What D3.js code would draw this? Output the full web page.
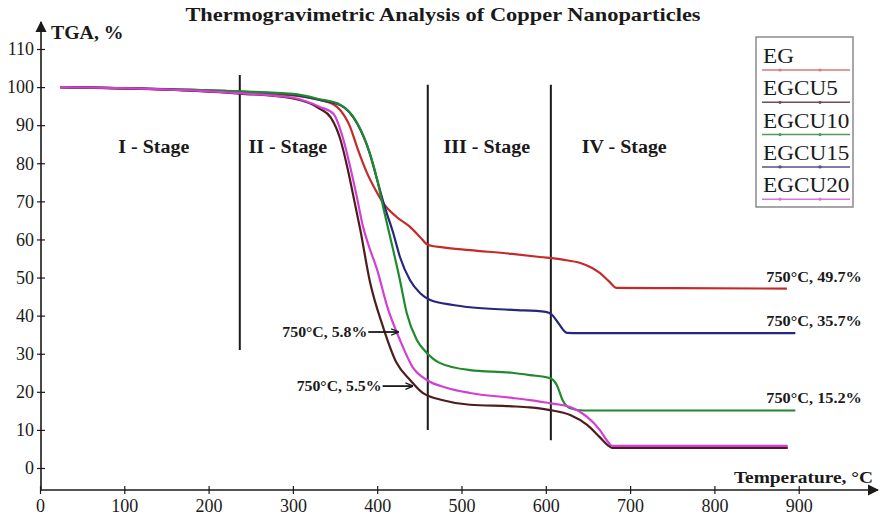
<!DOCTYPE html>
<html>
<head>
<meta charset="utf-8">
<script src="https://cdn.jsdelivr.net/npm/d3@7"></script>
<style>
  body { margin: 0; background: #fff; }
  svg { display: block; }
  text { font-family: "Liberation Serif", "DejaVu Serif", serif; fill: #1a1a1a; }
</style>
</head>
<body>
<div id="chart"></div>
<script>
// ---- data ----
var seriesNames = ["EG", "EGCU5", "EGCU10", "EGCU15", "EGCU20"];
var seriesColors = ["#c42a2a", "#4e1c1e", "#1f8a2c", "#26267e", "#d23fd2"];
var legendColors = ["#d87a7a", "#6b5058", "#4f9a58", "#5a4f88", "#d77ad7"];

// temperature (°C), mass (%)
var egData = [[24,100],[120,99.5],[237,98.6],[300,97.8],[332,96.6],[348,95.5],[356,94],[368,89.5],[376,84.3],
  [388,77.4],[400,72.2],[407,69.6],[423,65.9],[439,63.3],[451,60.6],[460,58.6],[478,57.9],[510,57.2],[560,56.2],
  [593,55.4],[620,54.7],[641,53.8],[655,52.5],[664,51.2],[675,49],[684,47.3],[750,47.2],[886,47.1]];
var egcu5Data = [[24,100],[120,99.6],[237,98.3],[300,97],[332,94.3],[345,92],[356,86.5],[365,78.5],[373,70],
  [380,62.5],[391,49.3],[407,37],[423,27.6],[439,23.1],[454,19.7],[478,17.8],[510,16.6],[560,16.2],[581,15.9],
  [605,15.2],[629,13.9],[649,11.3],[664,8.1],[674,5.9],[679,5.3],[887,5.3]];
var egcu10Data = [[24,100],[120,99.6],[237,98.9],[300,98.2],[332,96.8],[356,95.4],[376,90.7],[391,82.8],[400,75.7],
  [407,68.6],[415,61],[427,49.3],[435,40.7],[447,33.6],[459,30.2],[474,27.6],[510,25.7],[560,25],[581,24.4],
  [605,23.6],[613,21.8],[620,17.8],[629,15.7],[645,15.1],[896,15.1]];
var egcu15Data = [[24,100],[120,99.6],[237,98.8],[300,98],[332,96.6],[356,95.3],[376,90.5],[391,82.7],[400,75.6],
  [409,68.5],[419,61.7],[427,55.4],[439,49.3],[451,45.9],[463,44.1],[490,42.8],[510,42.2],[560,41.5],[600,41],
  [607,40.3],[615,38],[625,35.5],[640,35.4],[896,35.4]];
var egcu20Data = [[24,100],[120,99.6],[237,98.4],[300,97.2],[332,94.8],[348,93],[359,86.9],[368,79],[376,71],
  [383,63.5],[389,59],[400,52],[412,42.3],[427,33.6],[442,26.5],[459,23.1],[483,21],[510,19.7],[560,18.4],
  [581,17.8],[605,17],[629,16],[649,13.4],[664,10],[674,6.8],[679,5.8],[887,5.8]];
var seriesData = [egData, egcu5Data, egcu10Data, egcu15Data, egcu20Data];

var xTicks = [0, 100, 200, 300, 400, 500, 600, 700, 800, 900];
var yTicks = [0, 10, 20, 30, 40, 50, 60, 70, 80, 90, 100, 110];

// stage dividers: temperature, top %, bottom %
var stageLineTemps = [237, 460, 606];
var stageLineTops = [103.2, 100.6, 100.6];
var stageLineBottoms = [31, 10, 7.3];
var stageNames = ["I - Stage", "II - Stage", "III - Stage", "IV - Stage"];
var stageLabelTemps = [135, 294, 530, 693];

// end-of-run labels on the right (EG, EGCU15, EGCU10)
var endLabels = ["750°C, 49.7%", "750°C, 35.7%", "750°C, 15.2%"];
var endLabelSeries = [0, 3, 2];
// arrow labels (EGCU20, EGCU5): tip temperature, tip %
var arrowLabels = ["750°C, 5.8%", "750°C, 5.5%"];
var arrowTipTemps = [425, 442];
var arrowTipValues = [35.7, 21.5];

// ---- layout ----
var width = 880, height = 519;
var x = d3.scaleLinear().domain([0, 900]).range([40, 798.7]);
var y = d3.scaleLinear().domain([0, 110]).range([468, 49]);
var axisX = 41, axisY = 490;

// the source picture is a bit wider than tall, so stretch text to match
function stretch(sel, k) {
  sel.each(function() {
    var w = this.getComputedTextLength();
    d3.select(this).attr("textLength", w * k).attr("lengthAdjust", "spacingAndGlyphs");
  });
}

var svg = d3.select("#chart").append("svg")
  .attr("width", width)
  .attr("height", height);

var defs = svg.append("defs");
defs.append("marker")
  .attr("id", "axisArrow")
  .attr("viewBox", "0 0 10 10")
  .attr("refX", 9).attr("refY", 5)
  .attr("markerWidth", 7).attr("markerHeight", 7)
  .attr("orient", "auto")
  .append("path").attr("d", "M0,0 L10,5 L0,10 z").attr("fill", "#1a1a1a");
defs.append("marker")
  .attr("id", "noteArrow")
  .attr("viewBox", "0 0 10 10")
  .attr("refX", 9).attr("refY", 5)
  .attr("markerWidth", 8).attr("markerHeight", 8)
  .attr("markerUnits", "userSpaceOnUse")
  .attr("orient", "auto")
  .append("path").attr("d", "M0,1 L10,5 L0,9").attr("fill", "none").attr("stroke", "#1a1a1a").attr("stroke-width", 1.6);

// title
svg.append("text")
  .attr("x", 443).attr("y", 21)
  .attr("text-anchor", "middle")
  .attr("font-size", "19px").attr("font-weight", "bold")
  .text("Thermogravimetric Analysis of Copper Nanoparticles")
  .call(stretch, 1.18);

// axes lines with arrow heads
svg.append("line")
  .attr("x1", axisX).attr("y1", axisY).attr("x2", axisX).attr("y2", 22)
  .attr("stroke", "#1a1a1a").attr("stroke-width", 1.6)
  .attr("marker-end", "url(#axisArrow)");
svg.append("line")
  .attr("x1", axisX).attr("y1", axisY).attr("x2", 878).attr("y2", axisY)
  .attr("stroke", "#1a1a1a").attr("stroke-width", 1.6)
  .attr("marker-end", "url(#axisArrow)");

var yAxis = d3.axisLeft(y).tickValues(yTicks).tickSize(4).tickPadding(3);
var gy = svg.append("g")
  .attr("transform", "translate(" + axisX + ",0)")
  .call(yAxis);
gy.select(".domain").remove();
gy.selectAll(".tick line").attr("x2", -4).attr("x1", 4).attr("stroke", "#1a1a1a").attr("stroke-width", 1.2);
gy.selectAll(".tick text").attr("font-size", "18px").attr("font-family", "Liberation Serif, serif").attr("fill", "#1a1a1a");

var xAxis = d3.axisBottom(x).tickValues(xTicks).tickSize(5).tickPadding(4);
var gx = svg.append("g")
  .attr("transform", "translate(0," + axisY + ")")
  .call(xAxis);
gx.select(".domain").remove();
gx.selectAll(".tick line").attr("y1", -4).attr("y2", 4).attr("stroke", "#1a1a1a").attr("stroke-width", 1.2);
gx.selectAll(".tick text").attr("font-size", "18px").attr("font-family", "Liberation Serif, serif").attr("fill", "#1a1a1a");

// axis titles
svg.append("text")
  .attr("x", 51).attr("y", 39)
  .attr("font-size", "18px").attr("font-weight", "bold")
  .text("TGA, %")
  .call(stretch, 1.1);
svg.append("text")
  .attr("x", 873).attr("y", 483)
  .attr("text-anchor", "end")
  .attr("font-size", "17px").attr("font-weight", "bold")
  .text("Temperature, °C")
  .call(stretch, 1.14);

// stage dividers
svg.append("g").selectAll("line")
  .data(stageLineTemps)
  .enter().append("line")
  .attr("x1", function(d) { return x(d); })
  .attr("x2", function(d) { return x(d); })
  .attr("y1", function(d, i) { return y(stageLineTops[i]); })
  .attr("y2", function(d, i) { return y(stageLineBottoms[i]); })
  .attr("stroke", "#1a1a1a").attr("stroke-width", 2);

svg.append("g").selectAll("text")
  .data(stageNames)
  .enter().append("text")
  .attr("x", function(d, i) { return x(stageLabelTemps[i]); })
  .attr("y", y(82.6))
  .attr("text-anchor", "middle")
  .attr("font-size", "18px").attr("font-weight", "bold")
  .text(function(d) { return d; })
  .call(stretch, 1.11);

// curves
var line = d3.line()
  .x(function(d) { return x(d[0]); })
  .y(function(d) { return y(d[1]); })
  .curve(d3.curveMonotoneX);

// draw order: EG, EGCU15, EGCU10, EGCU5, EGCU20
var drawOrder = [0, 3, 2, 1, 4];
svg.append("g").selectAll("path")
  .data(drawOrder)
  .enter().append("path")
  .attr("d", function(i) { return line(seriesData[i]); })
  .attr("fill", "none")
  .attr("stroke", function(i) { return seriesColors[i]; })
  .attr("stroke-width", 2.2)
  .attr("stroke-linejoin", "round");

// end labels
svg.append("g").selectAll("text")
  .data(endLabels)
  .enter().append("text")
  .attr("x", x(975))
  .attr("y", function(d, i) {
    var s = seriesData[endLabelSeries[i]];
    return y(s[s.length - 1][1]) - 7;
  })
  .attr("text-anchor", "end")
  .attr("font-size", "15.5px").attr("font-weight", "bold")
  .text(function(d) { return d; })
  .call(stretch, 1.05);

// arrow labels
var notes = svg.append("g").selectAll("g")
  .data(arrowLabels)
  .enter().append("g");
notes.append("line")
  .attr("x1", function(d, i) { return x(arrowTipTemps[i]) - 30; })
  .attr("x2", function(d, i) { return x(arrowTipTemps[i]); })
  .attr("y1", function(d, i) { return y(arrowTipValues[i]); })
  .attr("y2", function(d, i) { return y(arrowTipValues[i]); })
  .attr("stroke", "#1a1a1a").attr("stroke-width", 1.8)
  .attr("marker-end", "url(#noteArrow)");
notes.append("text")
  .attr("x", function(d, i) { return x(arrowTipTemps[i]) - 31; })
  .attr("y", function(d, i) { return y(arrowTipValues[i]) + 5; })
  .attr("text-anchor", "end")
  .attr("font-size", "15.5px").attr("font-weight", "bold")
  .text(function(d) { return d; })
  .call(stretch, 1.02);

// legend
var legend = svg.append("g").attr("transform", "translate(756,37)");
legend.append("rect")
  .attr("width", 97).attr("height", 170)
  .attr("fill", "#fff").attr("stroke", "#8a8a8a").attr("stroke-width", 1.5);
var item = legend.selectAll(".legend-item")
  .data(seriesNames)
  .enter().append("g")
  .attr("class", "legend-item")
  .attr("transform", function(d, i) { return "translate(0," + (i * 32.3) + ")"; });
item.append("text")
  .attr("x", 7).attr("y", 26)
  .attr("font-size", "20px")
  .text(function(d) { return d; })
  .call(stretch, 1.16);
item.each(function(d, i) {
  var g = d3.select(this);
  g.append("line")
    .attr("x1", 6).attr("x2", 94).attr("y1", 33).attr("y2", 33)
    .attr("stroke", legendColors[i])
    .attr("stroke-width", 1.5);
  g.selectAll("circle")
    .data([24, 64])
    .enter().append("circle")
    .attr("cx", function(c) { return c; }).attr("cy", 33).attr("r", 1.6)
    .attr("fill", legendColors[i]);
});
</script>
</body>
</html>
